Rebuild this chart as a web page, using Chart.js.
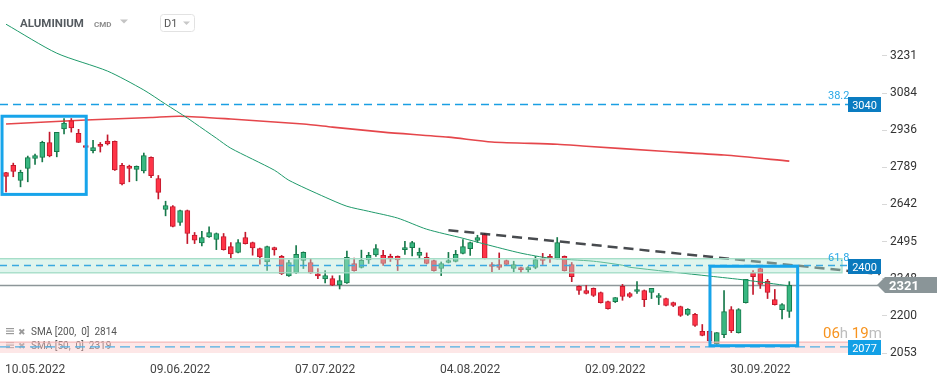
<!DOCTYPE html>
<html>
<head>
<meta charset="utf-8">
<script src="https://cdn.jsdelivr.net/npm/chart.js@4.4.0/dist/chart.umd.min.js"></script>
<style>
  html, body { margin: 0; padding: 0; background: #fff; }
  #chart { display: block; }
</style>
</head>
<body>
<canvas id="chart" width="949" height="378"></canvas>
<script>
// daily candles (oldest first)
const opens = [2769,2797,2737,2785,2825,2829,2888,2851,2942,2975,2924,2876,2855,2881,2893,2892,2797,2794,2781,2775,
  2829,2745,2622,2634,2571,2618,2521,2490,2513,2503,2515,2475,2452,2511,2491,2467,2414,2471,2436,2359,
  2371,2420,2412,2367,2347,2348,2323,2331,2408,2392,2422,2442,2440,2436,2436,2463,2471,2440,2432,2420,
  2388,2412,2416,2448,2467,2499,2523,2404,2404,2420,2388,2392,2383,2392,2428,2436,2428,2436,2404,2317,
  2301,2309,2293,2257,2257,2317,2289,2297,2301,2293,2273,2269,2253,2237,2206,2206,2139,2139,2090,2126,
  2225,2134,2253,2372,2388,2337,2265,2225,2218];
const highs = [2770,2806,2778,2834,2842,2893,2929,2928,2983,2983,2940,2880,2896,2888,2918,2894,2805,2798,2795,2846,
  2831,2757,2655,2638,2620,2620,2531,2536,2553,2529,2527,2491,2503,2532,2493,2469,2477,2473,2440,2421,
  2479,2454,2428,2388,2380,2359,2360,2457,2429,2461,2452,2483,2460,2445,2438,2496,2496,2469,2450,2422,
  2414,2452,2460,2503,2493,2520,2527,2412,2450,2422,2417,2394,2396,2436,2448,2444,2511,2438,2412,2319,
  2321,2311,2295,2259,2273,2325,2293,2336,2303,2309,2289,2271,2255,2239,2229,2210,2166,2141,2134,2301,
  2237,2229,2345,2380,2390,2345,2305,2249,2336];
const lows = [2692,2752,2712,2732,2801,2811,2831,2831,2922,2929,2888,2866,2847,2850,2878,2777,2720,2732,2736,2767,
  2748,2664,2597,2553,2559,2487,2487,2478,2511,2463,2461,2426,2450,2485,2441,2405,2381,2441,2364,2357,
  2369,2388,2369,2348,2331,2320,2307,2329,2378,2390,2408,2436,2400,2416,2380,2444,2438,2428,2406,2378,
  2360,2410,2414,2446,2440,2491,2426,2376,2384,2402,2375,2372,2372,2387,2404,2412,2426,2378,2336,2285,
  2287,2277,2251,2227,2253,2262,2273,2289,2237,2269,2245,2240,2237,2198,2202,2158,2121,2099,2078,2114,
  2134,2132,2251,2285,2309,2269,2243,2188,2194];
const closes = [2753,2773,2770,2828,2836,2889,2835,2928,2965,2946,2888,2868,2868,2872,2882,2779,2724,2785,2793,2836,
  2756,2690,2638,2555,2618,2527,2500,2511,2531,2527,2463,2446,2491,2487,2470,2434,2475,2462,2368,2412,
  2444,2452,2371,2359,2360,2322,2340,2432,2380,2421,2440,2467,2408,2426,2422,2471,2491,2452,2408,2380,
  2408,2420,2444,2475,2491,2511,2428,2396,2392,2404,2404,2383,2392,2424,2420,2428,2491,2380,2356,2301,
  2289,2281,2253,2229,2273,2277,2277,2305,2265,2309,2281,2242,2242,2202,2226,2162,2123,2101,2134,2217,
  2142,2225,2345,2356,2325,2293,2245,2245,2321];

// moving averages, sampled where readable
const sma50Idx = [0, 7, 14, 19, 22, 25, 26, 29, 31, 37, 39, 44, 47, 50, 54, 58, 63, 66, 71, 75, 81, 85, 86, 97, 102, 108];
const sma50Val = [3357, 3242, 3171, 3096, 3040, 2985, 2965, 2905, 2865, 2778, 2738, 2671, 2635, 2615, 2588, 2544, 2508, 2485, 2449, 2429, 2417, 2401, 2393, 2358, 2342, 2319];
const sma200Idx = [0, 11, 20, 24, 31, 41, 45, 52, 61, 67, 76, 80, 90, 99, 108];
const sma200Val = [2961, 2977, 2987, 2992, 2981, 2961, 2949, 2929, 2909, 2890, 2881, 2873, 2854, 2838, 2814];

// downward trend line
const trendIdx = [61, 120.5];
const trendVal = [2540, 2366];

const dateIdx = [4, 24, 44, 64, 84, 104];
const dateLabels = ['10.05.2022', '09.06.2022', '07.07.2022', '04.08.2022', '02.09.2022', '30.09.2022'];
const yTicks = [3231, 3084, 2936, 2789, 2642, 2495, 2348, 2200, 2053];

// levels and zones
const fibValues = [3040, 2400];
const fibNames = ['38.2', '61.8'];
const greenZone = [2371, 2427];
const pinkZone = [2053, 2098];
const supportLevel = 2077;
const lastPrice = 2321;
const boxes = [
  [-0.55, 11.06, 2992, 2682],
  [97.06, 109.15, 2397, 2082]
];

const UP = '#38b781', UP_EDGE = '#17794b';
const DOWN = '#ff3447', DOWN_EDGE = '#c3182c';
const isUp = closes.map((c, i) => c >= opens[i]);

function hline(ctx, y, x0, x1, color, width, dash) {
  ctx.save();
  ctx.strokeStyle = color;
  ctx.lineWidth = width;
  ctx.setLineDash(dash || []);
  ctx.beginPath();
  ctx.moveTo(x0, y);
  ctx.lineTo(x1, y);
  ctx.stroke();
  ctx.restore();
}

const overlays = {
  id: 'overlays',
  beforeDatasetsDraw(chart) {
    const { ctx } = chart;
    const y = chart.scales.y;
    hline(ctx, Math.round(y.getPixelForValue(fibValues[0])) + 0.5, 0, 848, '#1a9fe3', 1.3, [8, 5]);
    hline(ctx, Math.round(y.getPixelForValue(lastPrice)) + 0.5, 0, 878, '#8d9699', 1.3);

    // indicator legend
    ctx.save();
    const rows = [['SMA [200,  0]  2814', 335], ['SMA [50,  0]  2319', 349]];
    rows.forEach(([txt, base]) => {
      ctx.fillStyle = '#9a9a9a';
      for (let k = 0; k < 3; k++) ctx.fillRect(6, base - 7 + k * 2.5, 8, 1.2);
      ctx.font = 'bold 9px "DejaVu Sans"';
      ctx.fillText('\u2716', 18, base - 0.5);
      ctx.font = '10px Roboto';
      ctx.fillStyle = '#555';
      ctx.fillText(txt, 31, base);
    });
    ctx.restore();
  },
  afterDatasetsDraw(chart) {
    const { ctx, chartArea } = chart;
    const x = chart.scales.x, y = chart.scales.y;

    // green zone around 61.8
    const gTop = y.getPixelForValue(greenZone[1]);
    const gBot = y.getPixelForValue(greenZone[0]);
    ctx.save();
    ctx.fillStyle = 'rgba(178,230,212,0.42)';
    ctx.fillRect(0, gTop, 842, gBot - gTop);
    ctx.strokeStyle = '#a2ddc6';
    ctx.lineWidth = 1.3;
    ctx.strokeRect(-1, gTop, 843, gBot - gTop);
    ctx.restore();
    hline(ctx, y.getPixelForValue(fibValues[1]), 0, 848, '#3aa9e0', 1.3, [7, 5]);

    // pink zone at the bottom
    const pTop = y.getPixelForValue(pinkZone[1]);
    ctx.save();
    ctx.fillStyle = 'rgba(250,198,198,0.42)';
    ctx.fillRect(0, pTop, 848, chartArea.bottom - pTop);
    ctx.strokeStyle = '#f3b0b0';
    ctx.lineWidth = 1;
    ctx.beginPath();
    ctx.moveTo(0, pTop + 0.5); ctx.lineTo(848.5, pTop + 0.5); ctx.lineTo(848.5, chartArea.bottom);
    ctx.stroke();
    ctx.restore();
    hline(ctx, y.getPixelForValue(supportLevel), 0, 848, '#4fb0e4', 1.3, [10, 5]);

    // highlight boxes
    ctx.save();
    ctx.strokeStyle = '#17a4ea';
    ctx.lineWidth = 3;
    boxes.forEach(b => {
      const x0 = x.getPixelForValue(b[0]), x1 = x.getPixelForValue(b[1]);
      const y0 = y.getPixelForValue(b[2]), y1 = y.getPixelForValue(b[3]);
      ctx.strokeRect(x0, y0, x1 - x0, y1 - y0);
    });
    ctx.restore();
  },
  afterDraw(chart) {
    const { ctx } = chart;
    const y = chart.scales.y;
    ctx.save();

    // fib names
    ctx.font = '11px Roboto';
    ctx.fillStyle = '#2aa8e6';
    fibNames.forEach((n, i) => {
      ctx.fillText(n, 828, y.getPixelForValue(fibValues[i]) - 5);
    });

    // price tags
    const tag = (v, fill) => {
      const py = Math.round(y.getPixelForValue(v));
      ctx.fillStyle = fill;
      ctx.fillRect(848, py - 7, 33, 15);
      ctx.fillStyle = '#fff';
      ctx.font = '11px Roboto';
      ctx.textAlign = 'center';
      ctx.fillText(String(v), 864.5, py + 4.5);
      ctx.textAlign = 'left';
    };
    tag(fibValues[0], '#0a7cc1');
    tag(fibValues[1], '#0a79bd');
    tag(supportLevel, '#12a0e6');

    const ly = Math.round(y.getPixelForValue(lastPrice));
    ctx.fillStyle = '#8a9598';
    ctx.beginPath();
    ctx.moveTo(877, ly);
    ctx.lineTo(885, ly - 8);
    ctx.lineTo(937, ly - 8);
    ctx.lineTo(937, ly + 8);
    ctx.lineTo(885, ly + 8);
    ctx.closePath();
    ctx.fill();
    ctx.fillStyle = '#fff';
    ctx.font = 'bold 13px Roboto';
    ctx.fillText(String(lastPrice), 889, ly + 5);

    // countdown
    ctx.font = '15px Roboto';
    let tx = 823;
    [['06', '#f7931e'], ['h ', '#bdbdbd'], ['19', '#f7931e'], ['m', '#bdbdbd']].forEach(([s, c]) => {
      ctx.fillStyle = c;
      ctx.fillText(s, tx, 338);
      tx += ctx.measureText(s).width;
    });

    // header
    ctx.fillStyle = '#555b60';
    ctx.font = 'bold 11.5px Roboto';
    ctx.fillText('ALUMINIUM', 20, 27);
    ctx.fillStyle = '#8c8c8c';
    ctx.font = 'bold 8px Roboto';
    ctx.fillText('CMD', 94, 27);
    ctx.fillStyle = '#c4c4c4';
    ctx.beginPath();
    ctx.moveTo(120, 19.5); ctx.lineTo(128, 19.5); ctx.lineTo(124, 23.5); ctx.closePath();
    ctx.fill();

    ctx.strokeStyle = '#e2e2e2';
    ctx.lineWidth = 1;
    ctx.beginPath();
    ctx.roundRect(160.5, 14.5, 34, 17, 3);
    ctx.stroke();
    ctx.fillStyle = '#555';
    ctx.font = '11px Roboto';
    ctx.fillText('D1', 164, 27);
    ctx.fillStyle = '#c8c8c8';
    ctx.beginPath();
    ctx.moveTo(183, 21.5); ctx.lineTo(190, 21.5); ctx.lineTo(186.5, 25); ctx.closePath();
    ctx.fill();

    ctx.restore();
  }
};

new Chart(document.getElementById('chart'), {
  type: 'bar',
  data: {
    datasets: [
      {
        type: 'line',
        data: sma50Idx.map((i, k) => ({ x: i, y: sma50Val[k] })),
        borderColor: '#1f9a6b',
        borderWidth: 1,
        pointRadius: 0,
        tension: 0.25,
        order: 0
      },
      {
        type: 'line',
        data: sma200Idx.map((i, k) => ({ x: i, y: sma200Val[k] })),
        borderColor: 'rgba(224,38,44,0.85)',
        borderWidth: 1.6,
        pointRadius: 0,
        tension: 0.25,
        order: 0
      },
      {
        type: 'line',
        data: trendIdx.map((i, k) => ({ x: i, y: trendVal[k] })),
        borderColor: 'rgba(40,44,48,0.85)',
        borderWidth: 2.5,
        borderDash: [10, 6],
        pointRadius: 0,
        order: 0
      },
      {
        type: 'bar',
        data: opens.map((o, i) => ({ x: i, y: [o, closes[i]] })),
        backgroundColor: isUp.map(u => u ? UP : DOWN),
        borderColor: isUp.map(u => u ? UP_EDGE : DOWN_EDGE),
        borderWidth: 1,
        borderSkipped: false,
        barThickness: 5,
        grouped: false,
        order: 1
      },
      {
        type: 'bar',
        data: highs.map((h, i) => ({ x: i, y: [lows[i], h] })),
        backgroundColor: isUp.map(u => u ? UP_EDGE : DOWN_EDGE),
        borderWidth: 0,
        barThickness: 1,
        grouped: false,
        order: 2
      }
    ]
  },
  options: {
    responsive: false,
    animation: false,
    layout: { padding: 0, autoPadding: false },
    plugins: { legend: { display: false }, tooltip: { enabled: false } },
    scales: {
      x: {
        type: 'linear',
        offset: false,
        min: -0.83,
        max: 120.78,
        grid: { display: false, offset: false },
        border: { display: false },
        afterBuildTicks: (scale) => { scale.ticks = dateIdx.map(v => ({ value: v })); },
        afterFit: (scale) => {
          scale.height = 25;
          scale.paddingLeft = 0;
          scale.paddingRight = 0;
        },
        ticks: {
          autoSkip: false,
          maxRotation: 0,
          padding: 2,
          color: '#444',
          font: { family: 'Roboto', size: 12 },
          callback: (v) => dateLabels[dateIdx.indexOf(v)]
        }
      },
      y: {
        type: 'linear',
        position: 'right',
        min: 2053,
        max: 3453,
        grid: { drawOnChartArea: false, tickLength: 5, color: '#d8d8d8' },
        border: { display: false },
        afterBuildTicks: (scale) => { scale.ticks = yTicks.map(v => ({ value: v })); },
        afterFit: (scale) => {
          scale.width = 67;
          scale.paddingTop = 0;
          scale.paddingBottom = 0;
        },
        ticks: {
          padding: 3,
          color: '#333',
          font: { family: 'Roboto', size: 12 },
          callback: (v) => String(v)
        }
      }
    }
  },
  plugins: [overlays]
});
</script>
</body>
</html>
